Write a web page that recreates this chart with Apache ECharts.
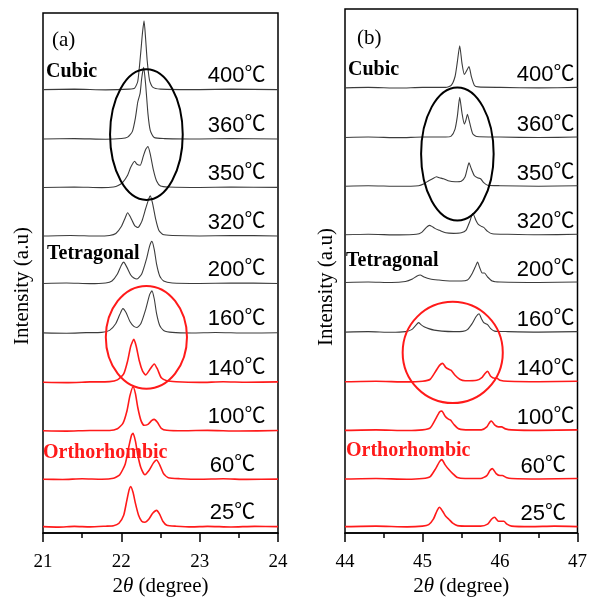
<!DOCTYPE html>
<html>
<head>
<meta charset="utf-8">
<script src="https://cdn.jsdelivr.net/npm/echarts@6/dist/echarts.min.js"></script>
<style>html,body{margin:0;padding:0;background:#fff}#c{width:590px;height:602px}</style>
</head>
<body>
<div id="c"></div>
<script>
// ---- data ----
const temps = ['25℃','60℃','100℃','140℃','160℃','200℃','320℃','350℃','360℃','400℃'];
const offsets = [6, 54, 103, 152, 202, 252, 300, 349, 398, 448]; // stacking offsets (a.u.)
const redCount = 4; // first four (orthorhombic) drawn in red
const xTicksA = [21, 22, 23, 24];
const xTicksB = [44, 45, 46, 47];

// panel (a): 2θ around 22°
const a25 = [[21,0.5],[21.2,0],[21.4,0.8],[21.6,0.3],[21.8,1],[21.9,1.5],[21.97,4],[22.03,12],[22.07,27],[22.1,38],[22.12,41],[22.15,35],[22.18,24],[22.22,12],[22.26,6],[22.3,5],[22.35,8],[22.4,14],[22.45,17],[22.49,13],[22.53,6],[22.58,2],[22.7,1],[22.9,0.3],[23.1,0.8],[23.4,0.2],[23.7,0.8],[24,0.5]];
const a60 = [[21,0.5],[21.25,0.2],[21.5,0.9],[21.75,0.4],[21.9,1.5],[21.98,5],[22.05,16],[22.1,35],[22.13,45],[22.15,47],[22.18,39],[22.21,25],[22.25,12],[22.3,5],[22.35,9],[22.41,17],[22.45,20],[22.49,15],[22.54,6],[22.6,2],[22.75,1],[23,0.4],[23.3,0.9],[23.6,0.3],[24,0.6]];
const a100 = [[21,0.5],[21.3,0.1],[21.6,0.8],[21.85,0.8],[21.95,2.5],[22.02,8],[22.07,20],[22.11,36],[22.15,45],[22.18,38],[22.21,24],[22.25,11],[22.29,6],[22.34,7],[22.39,11],[22.42,12],[22.46,9],[22.51,3],[22.58,1],[22.8,0.5],[23.1,0.9],[23.5,0.2],[24,0.7]];
const a140 = [[21,0.6],[21.3,0.2],[21.6,0.9],[21.85,1.2],[21.95,3],[22.03,9],[22.08,22],[22.12,37],[22.16,44],[22.19,37],[22.23,22],[22.27,12],[22.31,8],[22.36,13],[22.42,19],[22.46,14],[22.51,5],[22.58,2],[22.7,1],[23,0.4],[23.3,1],[23.6,0.5],[24,0.9]];
const a160 = [[21,0.5],[21.3,0.1],[21.55,0.7],[21.75,1],[21.85,3],[21.93,10],[21.98,19],[22.02,25],[22.06,21],[22.11,12],[22.16,7],[22.2,6],[22.25,10],[22.31,24],[22.36,39],[22.39,43],[22.42,35],[22.45,20],[22.49,8],[22.54,3],[22.65,1],[22.9,0.4],[23.2,0.9],[23.6,0.3],[24,0.6]];
const a200 = [[21,0.5],[21.3,1],[21.6,0.3],[21.8,1],[21.88,3],[21.95,10],[22.0,19],[22.03,22],[22.07,17],[22.12,9],[22.16,6],[22.2,5],[22.26,10],[22.32,25],[22.36,38],[22.39,43],[22.42,35],[22.45,20],[22.49,8],[22.54,3],[22.65,1],[23,0.5],[23.4,1],[24,0.4]];
const a320 = [[21,0.5],[21.35,1],[21.7,0.4],[21.85,1],[21.93,3],[22.0,10],[22.05,19],[22.08,24],[22.12,19],[22.17,11],[22.21,9],[22.26,15],[22.31,28],[22.35,38],[22.37,41],[22.4,33],[22.44,17],[22.48,6],[22.53,2],[22.65,1],[23,0.5],[23.4,1],[24,0.5]];
const a350 = [[21,0.5],[21.4,1],[21.75,0.4],[21.9,1],[21.96,2.5],[22.02,6],[22.08,13],[22.12,21],[22.17,27],[22.2,24],[22.24,23],[22.28,32],[22.31,39],[22.34,42],[22.37,34],[22.41,18],[22.45,7],[22.5,2],[22.6,1],[23,0.5],[23.4,1],[24,0.6]];
const a360 = [[21,0.5],[21.4,1],[21.8,0.3],[22.0,1],[22.08,2.5],[22.14,8],[22.18,22],[22.21,38],[22.24,47],[22.26,62],[22.285,73],[22.31,56],[22.34,26],[22.37,9],[22.42,2],[22.55,1],[23,0.5],[23.4,1],[24,0.5]];
const a400 = [[21,0.5],[21.4,1],[21.8,0.3],[22.1,1],[22.17,2],[22.21,9],[22.25,40],[22.27,58],[22.29,70],[22.31,52],[22.33,30],[22.36,10],[22.4,3],[22.5,1],[23,0.5],[23.4,1],[24,0.5]];

// panel (b): 2θ around 45°
const b25 = [[44,0.5],[44.4,1],[44.8,0.3],[45.0,1],[45.08,2.5],[45.14,8],[45.19,17],[45.22,20],[45.26,16],[45.3,11],[45.34,8],[45.39,4],[45.45,1.5],[45.6,1],[45.75,1],[45.84,3],[45.89,8],[45.93,10],[45.98,6],[46.02,6],[46.05,6],[46.09,3],[46.15,1],[46.4,0.5],[46.7,1],[47,0.5]];
const b60 = [[44,0.5],[44.4,1],[44.8,0.3],[45.0,1],[45.1,3],[45.17,11],[45.22,18],[45.25,20],[45.29,15],[45.34,10],[45.39,6],[45.45,2],[45.55,1],[45.75,1],[45.83,4],[45.87,9],[45.9,11],[45.95,6],[46.0,4],[46.03,4],[46.08,2],[46.15,1],[46.5,0.5],[47,1]];
const b100 = [[44,0.5],[44.4,1],[44.8,0.3],[45.0,1],[45.1,3],[45.17,12],[45.22,19],[45.25,20],[45.29,15],[45.33,12],[45.36,11],[45.41,6],[45.47,2],[45.6,1],[45.76,1],[45.83,4],[45.87,9],[45.89,10],[45.93,6],[45.98,4],[46.02,4],[46.07,2],[46.15,1],[46.5,0.5],[47,1]];
const b140 = [[44,0.5],[44.4,1],[44.8,0.3],[45.0,1],[45.1,3],[45.17,11],[45.22,17],[45.26,19],[45.3,15],[45.34,13],[45.37,12],[45.42,7],[45.48,3],[45.55,1.5],[45.7,2],[45.77,5],[45.81,9],[45.84,11],[45.88,6],[45.93,4],[45.96,4],[46.0,2],[46.1,1],[46.5,0.5],[47,1]];
const b160 = [[44,0.5],[44.3,1],[44.6,0.3],[44.78,1],[44.86,3],[44.91,7],[44.95,10],[44.98,8],[45.02,6],[45.08,4],[45.15,2.5],[45.25,1.5],[45.4,1],[45.52,1.2],[45.58,3],[45.64,9],[45.69,16],[45.73,19],[45.76,14],[45.79,10],[45.84,8],[45.88,4],[45.93,1.5],[46.1,1],[46.5,0.5],[47,1]];
const b200 = [[44,0.5],[44.3,1],[44.6,0.4],[44.78,1.5],[44.87,4],[44.93,7],[44.97,8],[45.02,6],[45.1,4],[45.2,3],[45.35,2],[45.5,2],[45.58,3],[45.63,8],[45.68,16],[45.71,21],[45.74,15],[45.77,10],[45.8,10],[45.84,6],[45.9,2],[46.0,1],[46.5,0.5],[47,1]];
const b320 = [[44,0.5],[44.3,1],[44.7,0.4],[44.92,1],[44.99,3],[45.05,8],[45.09,10],[45.12,9],[45.16,7],[45.22,5],[45.3,2.5],[45.4,2],[45.5,2.5],[45.56,5],[45.61,14],[45.65,22],[45.69,15],[45.72,11],[45.76,9],[45.79,8],[45.84,4],[45.9,1.5],[46.1,1],[46.5,0.5],[47,1]];
const b350 = [[44,0.5],[44.3,1],[44.7,0.4],[44.95,1],[45.02,3],[45.08,6],[45.13,8],[45.18,10],[45.22,9],[45.27,8],[45.33,6],[45.42,5],[45.5,5.5],[45.55,10],[45.58,19],[45.6,24],[45.63,18],[45.67,11],[45.71,9],[45.75,8],[45.79,4],[45.84,1.5],[46,1],[46.5,0.5],[47,1]];
const b360 = [[44,0.5],[44.3,1],[44.7,0.4],[45.0,1],[45.3,1],[45.37,2],[45.42,9],[45.45,22],[45.48,41],[45.51,25],[45.54,14],[45.56,18],[45.58,24],[45.61,15],[45.65,4],[45.7,1.5],[46,1],[46.5,0.5],[47,1]];
const b400 = [[44,0.5],[44.3,1],[44.7,0.4],[45.0,1],[45.3,1],[45.37,3],[45.42,12],[45.45,27],[45.48,43],[45.51,25],[45.54,14],[45.57,18],[45.6,22],[45.63,12],[45.67,3],[45.72,1.5],[46,1],[46.5,0.5],[47,1]];

const panelA = [a25,a60,a100,a140,a160,a200,a320,a350,a360,a400];
const panelB = [b25,b60,b100,b140,b160,b200,b320,b350,b360,b400];

// ---- chart ----
const chart = echarts.init(document.getElementById('c'), null, {renderer:'canvas'});
const SERIF = '"Liberation Serif","Times New Roman",serif';
const SANS = '"Liberation Sans",Arial,sans-serif';
const CJK = '"Noto Sans CJK SC","DejaVu Sans",sans-serif';

function xAxis(gi, ticks){
  return {
    type:'value', gridIndex:gi, min:ticks[0], max:ticks[ticks.length-1], interval:1,
    axisLine:{show:true, onZero:false, lineStyle:{color:'#000', width:1.5}},
    axisTick:{show:true, inside:false, length:9, lineStyle:{color:'#000', width:1.5}},
    minorTick:{show:true, splitNumber:2, length:5, lineStyle:{color:'#000', width:1.5}},
    splitLine:{show:false},
    axisLabel:{color:'#000', fontFamily:SERIF, fontSize:19, margin:19},
    name:'2{i|θ} (degree)', nameLocation:'middle', nameGap:40,
    nameTextStyle:{color:'#000', fontFamily:SERIF, fontSize:21,
      rich:{i:{fontStyle:'italic', fontFamily:SERIF, fontSize:21, color:'#000'}}}
  };
}
function yAxis(gi, max){
  return {type:'value', gridIndex:gi, min:0, max:max, show:false, splitLine:{show:false}};
}

const series = [];
[panelA, panelB].forEach((panel, pi) => {
  panel.forEach((pts, k) => {
    const red = k < redCount;
    series.push({
      type:'line', xAxisIndex:pi, yAxisIndex:pi, showSymbol:false, symbol:'none',
      smooth:0.2, animation:false, silent:true,
      data: pts.map(p => [p[0], p[1] + offsets[k]]),
      lineStyle:{color: red ? '#ff1a1a' : '#3c3c3c', width: red ? 1.6 : 1.1}
    });
  });
});

chart.setOption({
  animation:false,
  backgroundColor:'#fff',
  grid:[
    {left:43, right:312, top:13, bottom:63, show:true, borderColor:'#000', borderWidth:1.5},
    {left:345, right:8, top:9, bottom:65, show:true, borderColor:'#000', borderWidth:1.5}
  ],
  xAxis:[xAxis(0, xTicksA), xAxis(1, xTicksB)],
  yAxis:[yAxis(0, 526), yAxis(1, 528)],
  series: series
});

// ---- annotations ----
function px(gi, x, y){ return chart.convertToPixel({xAxisIndex:gi, yAxisIndex:gi}, [x, y]); }
function ellipse(gi, cx, cy, rxDeg, ryU, color){
  const c = px(gi, cx, cy), e = px(gi, cx + rxDeg, cy + ryU);
  return {type:'ellipse', z:100, silent:true,
    shape:{cx:c[0], cy:c[1], rx:Math.abs(e[0]-c[0]), ry:Math.abs(e[1]-c[1])},
    style:{fill:null, stroke:color, lineWidth:2}};
}
function txt(x, y, s, font, color, align){
  return {type:'text', z:100, silent:true, x:x, y:y,
    style:{text:s, font:font, fill:color||'#000', align:align||'left', verticalAlign:'middle'}};
}
function tempLabel(x, y, t){
  const num = t.replace('℃', '');
  return {type:'text', z:100, silent:true, x:x, y:y,
    style:{text: '{n|' + num + '}{c|℃}', fill:'#000',
      align:'right', verticalAlign:'middle',
      rich:{
        n:{fontFamily:SANS, fontSize:22, lineHeight:26, verticalAlign:'middle', fill:'#000'},
        c:{fontFamily:CJK, fontSize:21, lineHeight:26, verticalAlign:'middle', fill:'#000', padding:[0,0,7,0]}
      }}};
}
const g = [];
g.push(ellipse(0, 22.32, 403, 0.464, 66, '#000'));
g.push(ellipse(0, 22.32, 198, 0.518, 52, '#ff1a1a'));
g.push(ellipse(1, 45.45, 382, 0.468, 67, '#000'));
g.push(ellipse(1, 45.39, 182, 0.646, 51, '#ff1a1a'));

// temperature labels
const labRightA = [23.71, 23.71, 23.84, 23.84, 23.84, 23.84, 23.84, 23.84, 23.84, 23.84];
const labRightB = [46.85, 46.85, 46.96, 46.96, 46.96, 46.96, 46.96, 46.96, 46.96, 46.96];
temps.forEach((t, k) => {
  const pa = px(0, labRightA[k], offsets[k]);
  g.push(tempLabel(pa[0], pa[1] - 14, t));
  const pb = px(1, labRightB[k], offsets[k]);
  g.push(tempLabel(pb[0], pb[1] - 13, t));
});

g.push(txt(52, 40, '(a)', '21px ' + SERIF));
g.push(txt(357, 38, '(b)', '21px ' + SERIF));
g.push(txt(46, 72, 'Cubic', 'bold 20px ' + SERIF));
g.push(txt(348, 70, 'Cubic', 'bold 20px ' + SERIF));
g.push(txt(47, 254, 'Tetragonal', 'bold 20px ' + SERIF));
g.push(txt(346, 261, 'Tetragonal', 'bold 20px ' + SERIF));
g.push(txt(43, 453, 'Orthorhombic', 'bold 20px ' + SERIF, '#ff1a1a'));
g.push(txt(346, 451, 'Orthorhombic', 'bold 20px ' + SERIF, '#ff1a1a'));

// y-axis titles
[[22, 286], [326, 287]].forEach(p => {
  g.push({type:'text', z:100, silent:true, x:p[0], y:p[1], rotation:Math.PI/2,
    style:{text:'Intensity (a.u)', font:'21px ' + SERIF, fill:'#000', align:'center', verticalAlign:'middle'}});
});

chart.setOption({graphic: g});
</script>
</body>
</html>
